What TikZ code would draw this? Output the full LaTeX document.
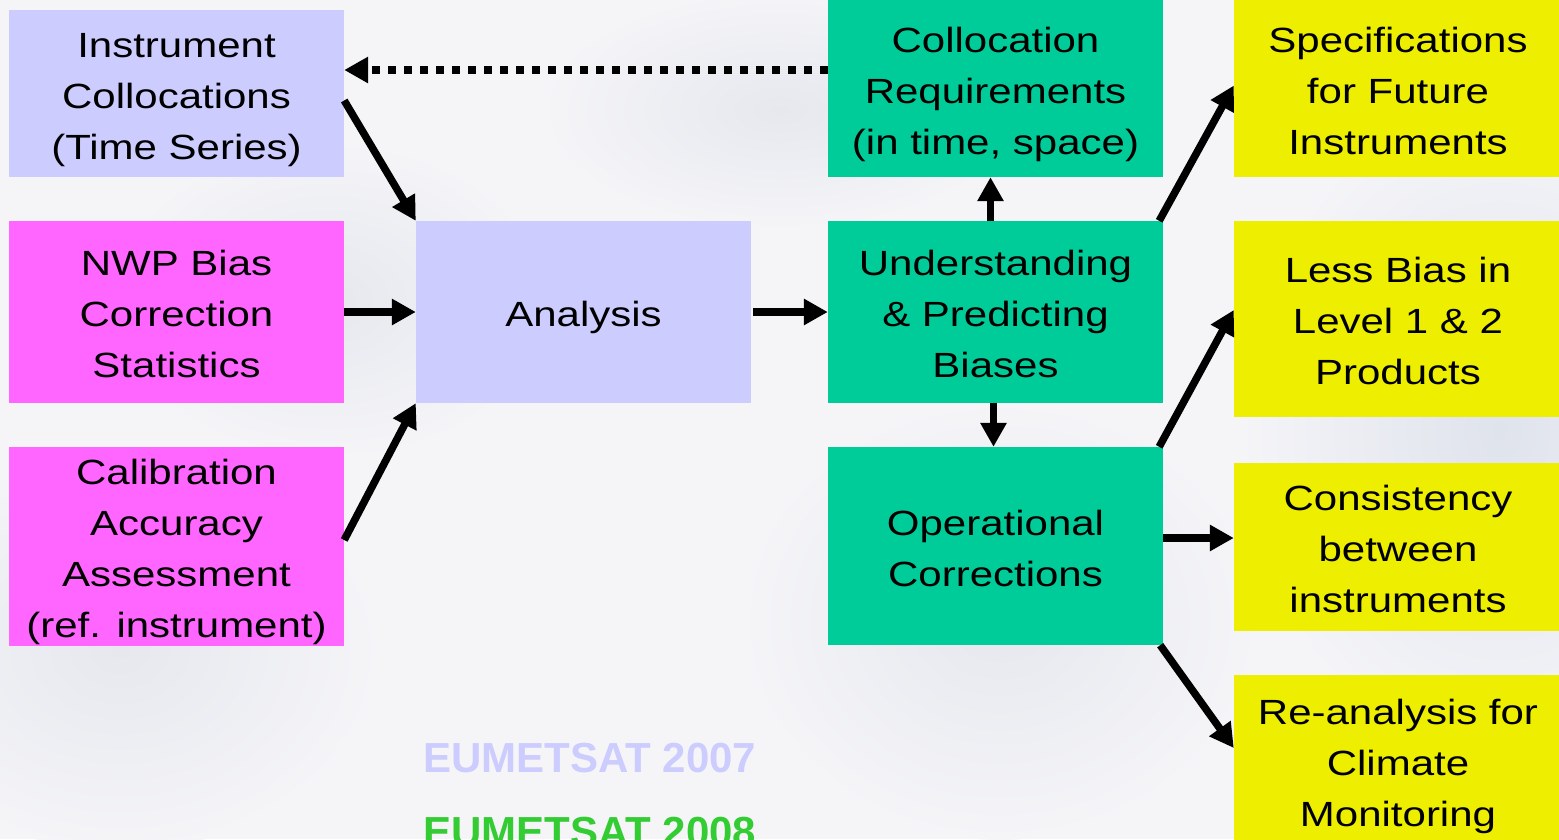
\documentclass[tikz,border=0pt]{standalone}
\usepackage{fontspec}
\setmainfont{Liberation Sans}
\newfontfamily\boxfont[FakeStretch=1.2]{Liberation Sans}
\usetikzlibrary{arrows.meta}
\definecolor{lav}{HTML}{CCCCFF}
\definecolor{mag}{HTML}{FF66FF}
\definecolor{grn}{HTML}{00CC99}
\definecolor{yel}{HTML}{EEEE00}
\definecolor{eumgreen}{HTML}{33CC33}
\definecolor{bgA}{HTML}{F5F5F8}
\definecolor{cloudA}{HTML}{DFE3EC}
\definecolor{cloudB}{HTML}{E6E8EE}
\newcommand\boxlines[1]{\raisebox{-4.5pt}[\dimexpr\height-4pt\relax][\dimexpr\depth-4pt\relax]{\begin{tabular}{@{}c@{}}#1\end{tabular}}}
\tikzset{
  box/.style={inner sep=0pt, minimum width=335pt,
    font=\boxfont\fontsize{35}{51}\selectfont, text=black},
  arr/.style={line width=7.5pt, -{Triangle[length=24pt,width=25pt]}},
  dotarr/.style={line width=8pt, dash pattern=on 8pt off 8pt, -{Triangle[length=24pt,width=25pt]}},
  eum/.style={anchor=base west, inner sep=0pt, font=\bfseries\fontsize{42}{50}\selectfont},
  cloud/.style={inner color=#1, outer color=bgA}
}
\begin{document}
\begin{tikzpicture}[x=1pt,y=-1pt]
\useasboundingbox (0,0) rectangle (1559,839);
\clip (0,0) rectangle (1559,839);
\fill[bgA] (0,0) rectangle (1559,839);
\shade[cloud=cloudA] (1500,430) ellipse (260 and 330);
\shade[cloud=cloudB] (120,650) ellipse (260 and 200);
\shade[cloud=cloudB] (330,300) ellipse (220 and 160);
\shade[cloud=cloudB] (1000,620) ellipse (260 and 220);
\shade[cloud=cloudB] (780,110) ellipse (240 and 120);

\node[box, fill=lav, minimum height=167pt] (inst) at (176.5,93.5) {\boxlines{Instrument\\Collocations\\(Time Series)}};
\node[box, fill=mag, minimum height=182pt] (nwp) at (176.5,312) {\boxlines{NWP Bias\\Correction\\Statistics}};
\node[box, fill=mag, minimum height=199pt] (cal) at (176.5,546.5) {\boxlines{Calibration\\Accuracy\\Assessment\\(ref. instrument)}};
\node[box, fill=lav, minimum height=182pt] (ana) at (583.5,312) {\boxlines{Analysis}};
\node[box, fill=grn, minimum height=177pt] (coll) at (995.5,88.5) {\boxlines{Collocation\\Requirements\\(in time, space)}};
\node[box, fill=grn, minimum height=182pt] (und) at (995.5,312) {\boxlines{Understanding\\\& Predicting\\Biases}};
\node[box, fill=grn, minimum height=198pt] (op) at (995.5,546) {\boxlines{Operational\\Corrections}};
\node[box, fill=yel, minimum width=328pt, minimum height=177pt] (spec) at (1398,88.5) {\boxlines{Specifications\\for Future\\Instruments}};
\node[box, fill=yel, minimum width=328pt, minimum height=196pt] (less) at (1398,319) {\boxlines{Less Bias in\\Level 1 \& 2\\Products}};
\node[box, fill=yel, minimum width=328pt, minimum height=168pt] (cons) at (1398,547) {\boxlines{Consistency\\between\\instruments}};
\node[box, fill=yel, minimum width=328pt, minimum height=172pt] (re) at (1398,761) {\boxlines{Re-analysis for\\Climate\\Monitoring}};

\node[eum, text=lav] (e7) at (423,772) {EUMETSAT 2007};
\node[eum, text=eumgreen] (e8) at (423,846) {EUMETSAT 2008};

\draw[dotarr] ([yshift=18.5pt]coll.west) -- ([yshift=18.5pt]coll.west -| inst.east);
\draw[arr] ([yshift=-7pt]inst.east) -- (ana.north west);
\draw[arr] (nwp.east) -- (ana.west);
\draw[arr] ([yshift=6.5pt]cal.east) -- (ana.south west);
\draw[arr] ([xshift=2pt]ana.east) -- (und.west);
\draw[arr] ([xshift=-5pt]und.north) -- ([xshift=-5pt]coll.south);
\draw[arr] ([xshift=-2pt]und.south) -- ([xshift=-2pt]op.north);
\draw[arr] ([xshift=-4pt]und.north east) -- ([yshift=3pt]spec.west);
\draw[arr] ([xshift=-4pt]op.north east) -- ([yshift=9pt]less.west);
\draw[arr] ([yshift=8pt]op.east) -- ([yshift=8pt]op.east -| cons.west);
\draw[arr] ([xshift=-3pt]op.south east) -- ([yshift=13pt]re.west);
\end{tikzpicture}
\end{document}
